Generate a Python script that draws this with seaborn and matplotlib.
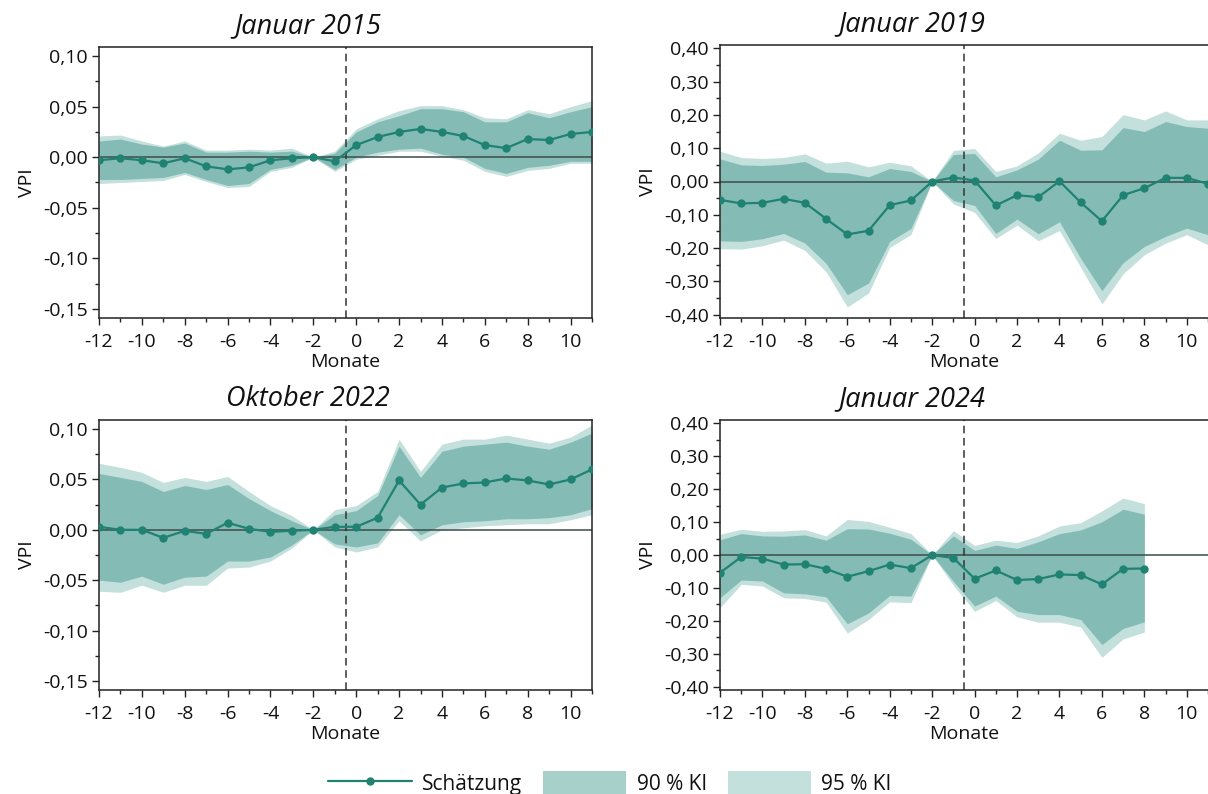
import numpy as np
import pandas as pd
import matplotlib
matplotlib.use("Agg")
import matplotlib.pyplot as plt
import seaborn as sns
from matplotlib.ticker import MultipleLocator, FuncFormatter
from matplotlib.lines import Line2D
from matplotlib.patches import Patch

# Monate relativ zum Ereignis
months = list(range(-12, 12))

# Januar 2015
est15 = [-0.003, -0.001, -0.003, -0.006, -0.001, -0.009, -0.012, -0.010, -0.003, -0.001, 0.000, -0.004,
         0.012, 0.020, 0.025, 0.028, 0.025, 0.021, 0.012, 0.009, 0.018, 0.017, 0.023, 0.025]
hi90_15 = [0.016, 0.018, 0.013, 0.010, 0.014, 0.005, 0.005, 0.006, 0.005, 0.006, 0.000, 0.004,
           0.025, 0.035, 0.041, 0.048, 0.048, 0.045, 0.035, 0.035, 0.044, 0.039, 0.045, 0.050]
hi95_15 = [0.021, 0.022, 0.016, 0.011, 0.016, 0.007, 0.007, 0.008, 0.007, 0.009, 0.000, 0.006,
           0.028, 0.038, 0.046, 0.051, 0.051, 0.047, 0.039, 0.038, 0.047, 0.043, 0.050, 0.056]
lo90_15 = [-0.022, -0.022, -0.021, -0.020, -0.015, -0.022, -0.028, -0.026, -0.012, -0.008, 0.000, -0.012,
           -0.000, 0.005, 0.008, 0.009, 0.003, 0.000, -0.011, -0.016, -0.010, -0.008, -0.004, -0.004]
lo95_15 = [-0.026, -0.025, -0.024, -0.023, -0.017, -0.024, -0.030, -0.029, -0.014, -0.010, 0.000, -0.014,
           -0.002, 0.002, 0.006, 0.006, 0.001, -0.003, -0.014, -0.019, -0.013, -0.011, -0.006, -0.006]

# Januar 2019
est19 = [-0.055, -0.066, -0.064, -0.052, -0.064, -0.112, -0.159, -0.148, -0.071, -0.057, 0.000, 0.012,
         0.003, -0.072, -0.041, -0.047, 0.001, -0.063, -0.119, -0.041, -0.020, 0.011, 0.011, -0.007]
hi90_19 = [0.068, 0.050, 0.048, 0.052, 0.060, 0.028, 0.026, 0.014, 0.039, 0.030, 0.000, 0.081,
           0.084, 0.014, 0.035, 0.067, 0.124, 0.094, 0.095, 0.162, 0.150, 0.180, 0.165, 0.160]
hi95_19 = [0.091, 0.072, 0.069, 0.072, 0.083, 0.055, 0.061, 0.044, 0.058, 0.047, 0.000, 0.093,
           0.099, 0.030, 0.047, 0.086, 0.145, 0.124, 0.135, 0.201, 0.185, 0.212, 0.185, 0.185]
lo90_19 = [-0.178, -0.180, -0.172, -0.156, -0.185, -0.246, -0.340, -0.305, -0.180, -0.141, 0.000, -0.057,
           -0.072, -0.156, -0.113, -0.157, -0.121, -0.231, -0.328, -0.244, -0.195, -0.165, -0.140, -0.160]
lo95_19 = [-0.202, -0.203, -0.193, -0.176, -0.207, -0.271, -0.377, -0.335, -0.198, -0.159, 0.000, -0.067,
           -0.093, -0.171, -0.131, -0.178, -0.147, -0.258, -0.368, -0.277, -0.220, -0.185, -0.160, -0.190]

# Oktober 2022
est22 = [0.003, 0.000, 0.000, -0.008, -0.001, -0.004, 0.007, 0.001, -0.002, -0.001, 0.000, 0.003,
         0.003, 0.012, 0.049, 0.025, 0.042, 0.046, 0.047, 0.051, 0.049, 0.045, 0.050, 0.060]
hi90_22 = [0.056, 0.052, 0.048, 0.038, 0.044, 0.040, 0.045, 0.031, 0.019, 0.009, 0.000, 0.015,
           0.019, 0.034, 0.083, 0.052, 0.078, 0.083, 0.085, 0.087, 0.083, 0.080, 0.087, 0.096]
hi95_22 = [0.066, 0.062, 0.057, 0.047, 0.052, 0.048, 0.053, 0.038, 0.024, 0.014, 0.000, 0.020,
           0.024, 0.038, 0.090, 0.058, 0.085, 0.090, 0.090, 0.094, 0.090, 0.086, 0.092, 0.104]
lo90_22 = [-0.050, -0.052, -0.046, -0.054, -0.047, -0.046, -0.031, -0.031, -0.027, -0.015, 0.000, -0.014,
           -0.017, -0.013, 0.015, -0.005, 0.005, 0.008, 0.009, 0.011, 0.011, 0.012, 0.015, 0.021]
lo95_22 = [-0.061, -0.062, -0.055, -0.062, -0.055, -0.055, -0.038, -0.037, -0.031, -0.018, 0.000, -0.017,
           -0.022, -0.017, 0.009, -0.011, 0.000, 0.002, 0.004, 0.005, 0.006, 0.006, 0.010, 0.015]

# Januar 2024 (nur bis Monat 8)
est24 = [-0.054, -0.006, -0.011, -0.029, -0.028, -0.042, -0.066, -0.049, -0.029, -0.040, 0.000, -0.009,
         -0.072, -0.047, -0.076, -0.073, -0.059, -0.061, -0.089, -0.042, -0.041]
hi90_24 = [0.046, 0.065, 0.058, 0.057, 0.061, 0.045, 0.080, 0.079, 0.066, 0.048, 0.000, 0.058,
           0.014, 0.030, 0.020, 0.040, 0.065, 0.076, 0.101, 0.139, 0.124]
hi95_24 = [0.063, 0.078, 0.072, 0.073, 0.077, 0.058, 0.108, 0.102, 0.084, 0.065, 0.000, 0.074,
           0.029, 0.045, 0.038, 0.058, 0.088, 0.098, 0.134, 0.173, 0.156]
lo90_24 = [-0.130, -0.076, -0.079, -0.115, -0.118, -0.127, -0.209, -0.176, -0.123, -0.125, 0.000, -0.080,
           -0.155, -0.125, -0.171, -0.181, -0.181, -0.196, -0.272, -0.223, -0.203]
lo95_24 = [-0.160, -0.089, -0.094, -0.130, -0.132, -0.143, -0.237, -0.196, -0.142, -0.145, 0.000, -0.092,
           -0.171, -0.138, -0.188, -0.204, -0.204, -0.219, -0.311, -0.255, -0.234]

titles = ["Januar 2015", "Januar 2019", "Oktober 2022", "Januar 2024"]

LINE = "#1f8272"
DARK = "#84bcb5"
LIGHT = "#c3e0dc"
LEG_DARK = "#a7d0cb"

sns.set_theme(style="ticks")
plt.rcParams["font.family"] = ["Open Sans", "DejaVu Sans"]
plt.rcParams["axes.unicode_minus"] = False


def comma_fmt(v, pos):
    return "{:.2f}".format(round(v, 3) + 0.0).replace(".", ",")


def draw_panel(ax, title, title_x, est, lo90, hi90, lo95, hi95, big):
    x = months[:len(est)]
    df = pd.DataFrame({"Monat": x, "VPI": est})
    ax.fill_between(x, lo95, hi95, color=LIGHT, lw=0)
    ax.fill_between(x, lo90, hi90, color=DARK, lw=0)
    ax.axhline(0, color="#3b4c49", lw=1.1, zorder=2)
    ax.axvline(-0.5, color="#333333", lw=1.1, ls=(0, (5, 3)), zorder=2)
    sns.lineplot(data=df, x="Monat", y="VPI", ax=ax, color=LINE, lw=1.6,
                 marker="o", markersize=6, markeredgewidth=0, zorder=3)
    ax.set_xlim(-12, 11)
    if big:
        ax.set_ylim(-0.41, 0.41)
        ax.yaxis.set_major_locator(MultipleLocator(0.1))
        ax.yaxis.set_minor_locator(MultipleLocator(0.05))
    else:
        ax.set_ylim(-0.159, 0.109)
        ax.yaxis.set_major_locator(MultipleLocator(0.05))
        ax.yaxis.set_minor_locator(MultipleLocator(0.025))
    ax.xaxis.set_major_locator(MultipleLocator(2))
    ax.xaxis.set_minor_locator(MultipleLocator(1))
    ax.yaxis.set_major_formatter(FuncFormatter(comma_fmt))
    ax.tick_params(which="major", direction="out", length=5, width=1, labelsize=14, pad=3,
                   color="#222222", labelcolor="#111111")
    ax.tick_params(axis="x", which="major", pad=6)
    ax.tick_params(which="minor", direction="out", length=3, width=1, color="#222222")
    for s in ax.spines.values():
        s.set_color("#222222")
        s.set_linewidth(1.1)
    ax.set_title(title, fontsize=19.5, style="italic", pad=10, x=title_x, color="#111111")
    ax.set_xlabel("Monate", fontsize=14, labelpad=1, color="#111111")
    ax.set_ylabel("VPI", fontsize=14, labelpad=5, color="#111111")


fig = plt.figure(figsize=(12.08, 7.94), dpi=100)
W, H = 1208.0, 794.0
boxes = [(99, 47, 592, 318), (720, 45, 1208, 318), (99, 420, 592, 690), (720, 420, 1208, 690)]
axes = [fig.add_axes([l / W, 1 - b / H, (r - l) / W, (b - t) / H]) for (l, t, r, b) in boxes]

draw_panel(axes[0], titles[0], 0.424, est15, lo90_15, hi90_15, lo95_15, hi95_15, False)
draw_panel(axes[1], titles[1], 0.393, est19, lo90_19, hi90_19, lo95_19, hi95_19, True)
draw_panel(axes[2], titles[2], 0.424, est22, lo90_22, hi90_22, lo95_22, hi95_22, False)
draw_panel(axes[3], titles[3], 0.393, est24, lo90_24, hi90_24, lo95_24, hi95_24, True)
# rechter Rand ist im Original abgeschnitten
axes[1].spines["right"].set_visible(False)
axes[3].spines["right"].set_visible(False)

handles = [Line2D([0], [0], color=LINE, lw=1.6, marker="o", markersize=6, markeredgewidth=0),
           Patch(facecolor=LEG_DARK, edgecolor="none"),
           Patch(facecolor=LIGHT, edgecolor="none")]
fig.legend(handles, ["Schätzung", "90 % KI", "95 % KI"], loc="center", bbox_to_anchor=(0.505, 1 - 783 / H),
           ncol=3, frameon=False, fontsize=15, handlelength=4.0, handleheight=1.3,
           handletextpad=0.5, columnspacing=1.0, labelcolor="#111111")

fig.savefig("out.png", dpi=100)
